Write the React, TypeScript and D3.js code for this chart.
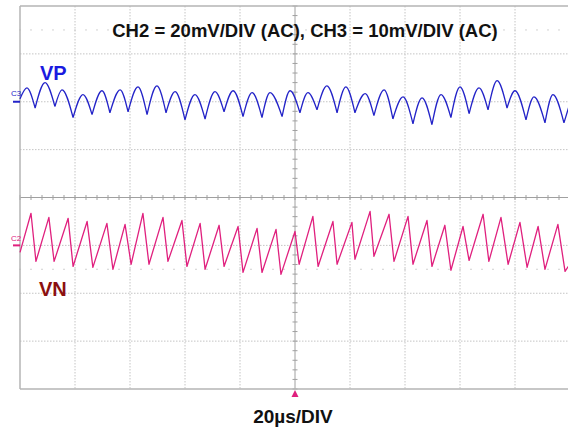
import React from "react";
import * as d3 from "d3";

// ---- Data (time in µs, values in mV) ----
const vpPeakT = [-97.5, -90.9, -84.7, -77.1, -70.2, -63.6, -57.1, -50.2, -43.6, -36.4, -29.1, -22.5, -15.6, -9.1, -1.8, 4.7, 11.6, 18.5, 25.5, 32.4, 39.3, 46.2, 53.1, 60.0, 66.9, 73.5, 80.0, 86.9, 93.8];
const vpPeakV = [2.9, 4.0, 2.5, 1.5, 2.3, 2.5, 3.1, 3.3, 2.1, 1.5, 2.1, 2.3, 1.9, 1.9, 2.3, 1.9, 3.3, 3.1, 1.7, 2.5, 1.0, 0.8, 1.5, 3.1, 2.9, 4.4, 2.3, 1.0, 1.5];
const vpTroughT = [-94.5, -87.3, -80.7, -73.8, -67.3, -60.7, -53.8, -46.9, -40.0, -32.7, -25.8, -18.9, -12.0, -4.7, 1.8, 8.0, 15.3, 21.8, 28.7, 35.6, 42.9, 49.8, 56.7, 63.3, 70.2, 77.1, 84.0, 90.9, 97.8];
const vpTroughV = [-1.3, -1.0, -3.3, -2.7, -2.3, -2.1, -2.7, -2.3, -3.8, -3.6, -2.1, -3.1, -3.3, -3.1, -2.3, -1.7, -2.3, -2.3, -2.9, -3.6, -4.6, -4.8, -3.3, -2.5, -1.7, -1.3, -3.8, -4.4, -4.4];
const vpStart = [-100, 0.6];
const vpEnd = [99.6, -1.0];

const vnPeakT = [-96.0, -89.5, -82.5, -75.6, -68.4, -61.8, -55.3, -48.0, -41.1, -34.5, -27.6, -20.7, -13.8, -6.9, 0.0, 6.5, 13.8, 20.7, 27.3, 34.2, 41.1, 48.0, 54.5, 61.1, 68.4, 74.9, 81.8, 88.4, 95.6];
const vnPeakV = [13.4, 11.7, 11.3, 10.0, 9.2, 8.8, 13.4, 11.7, 10.4, 9.2, 8.4, 7.9, 7.1, 6.7, 5.8, 12.1, 10.0, 9.6, 14.2, 13.0, 12.1, 10.4, 8.4, 7.9, 13.0, 11.7, 9.6, 7.9, 8.8];
const vnTroughT = [-94.2, -87.6, -80.7, -73.5, -66.2, -59.6, -53.1, -46.2, -39.3, -32.7, -25.8, -18.9, -12.0, -5.1, 1.5, 8.4, 15.3, 21.8, 28.7, 36.0, 42.9, 49.8, 56.7, 63.3, 70.5, 77.5, 84.4, 90.9, 98.2];
const vnTroughV = [-6.7, -6.7, -8.8, -9.2, -10.0, -7.9, -7.9, -6.7, -8.8, -10.0, -8.8, -11.3, -11.3, -12.1, -7.9, -8.8, -7.9, -5.8, -4.6, -6.7, -7.9, -8.8, -10.4, -6.3, -6.7, -7.9, -9.2, -10.0, -10.9];
const vnStart = [-100, -2.9];
const vnEnd = [99.6, -8.4];

const title = "CH2 = 20mV/DIV (AC), CH3 = 10mV/DIV (AC)";
const timebase = "20µs/DIV";
const vpLabel = "VP";
const vnLabel = "VN";

// ---- Layout ----
const W = 568;
const H = 428;
const L = 20, R = 570, T = 6, B = 389;

type Pt = [number, number];

function buildSeries(start: number[], pT: number[], pV: number[], tT: number[], tV: number[], end: number[]) {
  const pts: Pt[] = [[start[0], start[1]]];
  const all: Pt[] = [];
  pT.forEach((t, i) => all.push([t, pV[i]]));
  tT.forEach((t, i) => all.push([t, tV[i]]));
  all.sort((a, b) => a[0] - b[0]);
  all.forEach((p) => pts.push(p));
  pts.push([end[0], end[1]]);
  return pts;
}

// split a vertex list into humps that meet at the troughs (cusps)
function humps(start: number[], pT: number[], pV: number[], tT: number[], tV: number[], end: number[]) {
  const segs: Pt[][] = [];
  let prev: Pt = [start[0], start[1]];
  pT.forEach((t, i) => {
    const tr: Pt = i < tT.length ? [tT[i], tV[i]] : [end[0], end[1]];
    segs.push([prev, [t, pV[i]], tr]);
    prev = tr;
  });
  if (tT.length >= pT.length) segs.push([prev, [end[0], end[1]]]);
  return segs;
}

export default function App() {
  const x = d3.scaleLinear().domain([-100, 100]).range([L, R]);
  const yVP = d3.scaleLinear().domain([-60, 20]).range([B, T]); // CH3 10mV/div, +2 div offset
  const yVN = d3.scaleLinear().domain([-60, 100]).range([B, T]); // CH2 20mV/div, -1 div offset
  const xDiv = d3.scaleLinear().domain([0, 10]).range([L, R]);
  const yDiv = d3.scaleLinear().domain([0, 8]).range([T, B]);

  const vpSegs = humps(vpStart, vpPeakT, vpPeakV, vpTroughT, vpTroughV, vpEnd);
  const vnPts = buildSeries(vnStart, vnPeakT, vnPeakV, vnTroughT, vnTroughV, vnEnd);

  const humpLine = d3.line<Pt>().x((d) => x(d[0])).y((d) => yVP(d[1])).curve(d3.curveMonotoneX);
  const vpPath = vpSegs.map((s) => humpLine(s) || "").join("");
  const lineVN = d3.line<Pt>().x((d) => x(d[0])).y((d) => yVN(d[1]));

  const cx = xDiv(5);
  const cy = yDiv(4);
  const gridColor = "#c4c4c4";
  const axisColor = "#a0a0a0";

  const vLines = d3.range(1, 10).filter((i) => i !== 5);
  const hLines = d3.range(1, 8).filter((i) => i !== 4);
  const xMinor = d3.range(0, 50 + 1).map((i) => xDiv(i / 5));
  const yMinor = d3.range(0, 40 + 1).map((i) => yDiv(i / 5));
  const sparseRows = [0.5, 5.5];

  return (
    <svg width={W} height={H} style={{ position: "absolute", left: 0, top: 0, background: "#fff" }} fontFamily="'Liberation Sans', Arial, sans-serif">
      {/* dotted grid */}
      {vLines.map((i) => (
        <line key={"v" + i} x1={xDiv(i)} x2={xDiv(i)} y1={T} y2={B} stroke={gridColor} strokeWidth={1} strokeDasharray="1.5,1.5" />
      ))}
      {hLines.map((i) => (
        <line key={"h" + i} x1={L} x2={R} y1={yDiv(i)} y2={yDiv(i)} stroke={gridColor} strokeWidth={1} strokeDasharray="1.5,1.5" />
      ))}
      {sparseRows.map((r) =>
        xMinor.map((px, j) => (
          <rect key={"s" + r + "-" + j} x={px - 0.6} y={yDiv(r) - 0.6} width={1.2} height={1.2} fill="#c0c0c0" />
        ))
      )}
      {/* center crosshair */}
      <line x1={cx} x2={cx} y1={T} y2={B} stroke={axisColor} strokeWidth={1} />
      <line x1={L} x2={R} y1={cy} y2={cy} stroke={axisColor} strokeWidth={1} />
      {xMinor.map((px, j) => (
        <line key={"xt" + j} x1={px} x2={px} y1={cy - 2.5} y2={cy + 2.5} stroke={axisColor} strokeWidth={1} />
      ))}
      {yMinor.map((py, j) => (
        <line key={"yt" + j} x1={cx - 2.5} x2={cx + 2.5} y1={py} y2={py} stroke={axisColor} strokeWidth={1} />
      ))}
      {/* frame */}
      <line x1={L} x2={R} y1={T} y2={T} stroke="#b4b4b4" strokeWidth={1.5} />
      <line x1={L} x2={R} y1={B} y2={B} stroke="#b4b4b4" strokeWidth={1.5} />
      <line x1={L} x2={L} y1={T} y2={B} stroke="#b4b4b4" strokeWidth={1.5} />

      {/* traces */}
      <path d={vpPath} fill="none" stroke="#2323c8" strokeWidth={1.3} strokeLinejoin="round" />
      <path d={lineVN(vnPts) || ""} fill="none" stroke="#e0207e" strokeWidth={1.3} strokeLinejoin="round" />

      {/* channel markers */}
      <text x={11} y={96} fontSize={8} fill="#2323c8">C3</text>
      <line x1={13} x2={L} y1={yVP(0)} y2={yVP(0)} stroke="#2323c8" strokeWidth={2} />
      <text x={11} y={241} fontSize={8} fill="#e0207e">C2</text>
      <line x1={13} x2={L} y1={yVN(0)} y2={yVN(0)} stroke="#e0207e" strokeWidth={2} />

      {/* labels */}
      <text x={305} y={37} textAnchor="middle" fontSize={18.5} fontWeight="bold" fill="#111">{title}</text>
      <text x={40} y={80} fontSize={20} fontWeight="bold" fill="#1a1ae0">{vpLabel}</text>
      <text x={39} y={296} fontSize={20} fontWeight="bold" fill="#8b1010">{vnLabel}</text>
      <text x={cx - 2} y={423} textAnchor="middle" fontSize={19} fontWeight="bold" fill="#111">{timebase}</text>

      {/* trigger arrow */}
      <path d={`M${x(0) - 3.5},${B + 8} L${x(0) + 3.5},${B + 8} L${x(0)},${B + 1} Z`} fill="#e0207e" />
    </svg>
  );
}
